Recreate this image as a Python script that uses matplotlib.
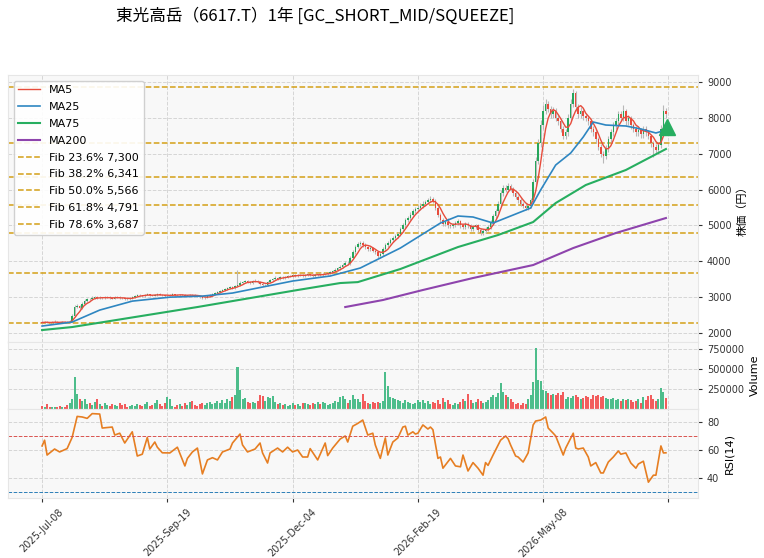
import numpy as np
import pandas as pd
import matplotlib
matplotlib.use('Agg')
import matplotlib.pyplot as plt

plt.rcParams['font.family'] = ['DejaVu Sans', 'Noto Sans CJK JP']

title = '東光高岳（6617.T）1年 [GC_SHORT_MID/SQUEEZE]'
tick_labels = ['2025-Jul-08', '2025-Sep-19', '2025-Dec-04', '2026-Feb-19', '2026-May-08', '']
tick_pos = [0, 50, 100, 150, 200, 250]

# daily candles (yen)
close = [
    2290, 2310, 2300, 2280, 2300, 2320, 2300, 2290, 2310, 2300,
    2290, 2320, 2480, 2720, 2760, 2700, 2820, 2900, 2960, 2940,
    2990, 3000, 2980, 2990, 2970, 2990, 3000, 2980, 2960, 2990,
    3000, 2980, 2970, 2950, 2940, 2980, 3010, 3040, 3060, 3050,
    3030, 3070, 3080, 3050, 3040, 3060, 3090, 3070, 3050, 3030,
    3040, 3060, 3080, 3060, 3050, 3070, 3060, 3040, 3050, 3070,
    3060, 3040, 3020, 3000, 2970, 2990, 3020, 3060, 3100, 3120,
    3150, 3180, 3200, 3230, 3260, 3280, 3250, 3300, 3350, 3400,
    3420, 3450, 3430, 3400, 3440, 3460, 3420, 3380, 3330, 3350,
    3420, 3480, 3500, 3540, 3520, 3560, 3550, 3570, 3580, 3600,
    3620, 3590, 3610, 3630, 3600, 3620, 3640, 3610, 3600, 3630,
    3650, 3620, 3640, 3660, 3680, 3700, 3720, 3760, 3800, 3850,
    3900, 3960, 3940, 4100, 4250, 4400, 4480, 4520, 4460, 4400,
    4350, 4380, 4300, 4250, 4150, 4200, 4350, 4450, 4520, 4600,
    4650, 4700, 4760, 4900, 5000, 5150, 5200, 5300, 5400, 5450,
    5500, 5550, 5600, 5650, 5700, 5750, 5680, 5500, 5300, 5150,
    5050, 5100, 5000, 4980, 5020, 5080, 5120, 5000, 4950, 5050,
    5000, 4900, 4950, 5000, 4880, 4800, 4850, 4900, 4950, 5100,
    5250, 5400, 5600, 5900, 6050, 6000, 6100, 6020, 5900, 5800,
    5700, 5600, 5550, 5500, 5550, 5700, 6200, 6800, 7300, 7800,
    8200, 8400, 8250, 8100, 8200, 8000, 7900, 7700, 7500, 7600,
    8000, 8400, 8700, 8300, 8100, 8200, 8050, 8000, 7900, 7700,
    7600, 7400, 7200, 7000, 6950, 7150, 7400, 7600, 7800, 7900,
    8100, 8000, 8200, 7900, 8000, 7800, 7700, 7600, 7650, 7550,
    7700, 7600, 7500, 7300, 7200, 7100, 7250, 7700, 8200, 8100,
]
open_ = [
    2300, 2290, 2310, 2300, 2280, 2300, 2320, 2300, 2290, 2310,
    2300, 2290, 2320, 2480, 2720, 2760, 2700, 2820, 2900, 2960,
    2940, 2990, 3000, 2980, 2990, 2970, 2990, 3000, 2980, 2960,
    2990, 3000, 2980, 2970, 2950, 2940, 2980, 3010, 3040, 3060,
    3050, 3030, 3070, 3080, 3050, 3040, 3060, 3090, 3070, 3050,
    3030, 3040, 3060, 3080, 3060, 3050, 3070, 3060, 3040, 3050,
    3070, 3060, 3040, 3020, 3000, 2970, 2990, 3020, 3060, 3100,
    3120, 3150, 3180, 3200, 3230, 3260, 3280, 3250, 3300, 3350,
    3400, 3420, 3450, 3430, 3400, 3440, 3460, 3420, 3380, 3330,
    3350, 3420, 3480, 3500, 3540, 3520, 3560, 3550, 3570, 3580,
    3600, 3620, 3590, 3610, 3630, 3600, 3620, 3640, 3610, 3600,
    3630, 3650, 3620, 3640, 3660, 3680, 3700, 3720, 3760, 3800,
    3850, 3900, 3960, 3940, 4100, 4250, 4400, 4480, 4520, 4460,
    4400, 4350, 4380, 4300, 4250, 4150, 4200, 4350, 4450, 4520,
    4600, 4650, 4700, 4760, 4900, 5000, 5150, 5200, 5300, 5400,
    5450, 5500, 5550, 5600, 5650, 5700, 5750, 5680, 5500, 5300,
    5150, 5050, 5100, 5000, 4980, 5020, 5080, 5120, 5000, 4950,
    5050, 5000, 4900, 4950, 5000, 4880, 4800, 4850, 4900, 4950,
    5100, 5250, 5400, 5600, 5900, 6050, 6000, 6100, 6020, 5900,
    5800, 5700, 5600, 5550, 5500, 5550, 5700, 6200, 6800, 7300,
    7800, 8200, 8400, 8250, 8100, 8200, 8000, 7900, 7700, 7500,
    7600, 8000, 8400, 8700, 8300, 8100, 8200, 8050, 8000, 7900,
    7700, 7600, 7400, 7200, 7000, 6950, 7150, 7400, 7600, 7800,
    7900, 8100, 8000, 8200, 7900, 8000, 7800, 7700, 7600, 7650,
    7550, 7700, 7600, 7500, 7300, 7200, 7100, 7250, 7700, 8200,
]
high = [
    2330, 2340, 2330, 2320, 2330, 2350, 2340, 2320, 2340, 2330,
    2330, 2350, 2520, 2780, 2800, 2790, 2860, 2940, 2990, 2990,
    3020, 3030, 3020, 3020, 3010, 3020, 3030, 3020, 3000, 3020,
    3030, 3020, 3000, 2990, 2970, 3010, 3040, 3070, 3090, 3080,
    3070, 3100, 3110, 3100, 3070, 3090, 3120, 3110, 3090, 3070,
    3060, 3090, 3110, 3100, 3080, 3100, 3090, 3080, 3070, 3100,
    3090, 3080, 3060, 3040, 3020, 3020, 3040, 3090, 3130, 3150,
    3180, 3210, 3230, 3260, 3290, 3310, 3300, 3330, 3750, 3440,
    3460, 3490, 3480, 3460, 3470, 3500, 3490, 3450, 3410, 3380,
    3460, 3520, 3540, 3580, 3570, 3600, 3590, 3600, 3610, 3630,
    3650, 3650, 3640, 3660, 3650, 3650, 3670, 3660, 3640, 3660,
    3680, 3670, 3670, 3690, 3710, 3740, 3760, 3800, 3840, 3890,
    3950, 4010, 4000, 4160, 4310, 4460, 4540, 4580, 4560, 4500,
    4440, 4420, 4410, 4340, 4290, 4250, 4400, 4520, 4580, 4650,
    4700, 4750, 4810, 4960, 5060, 5220, 5270, 5370, 5470, 5520,
    5570, 5620, 5670, 5720, 5770, 5820, 5800, 5730, 5550, 5350,
    5200, 5160, 5200, 5050, 5070, 5130, 5180, 5160, 5040, 5100,
    5100, 5040, 5000, 5050, 5040, 4920, 4900, 4950, 5000, 5160,
    5320, 5470, 5680, 5990, 6140, 6120, 6190, 6160, 6080, 5960,
    5860, 5760, 5650, 5600, 5610, 5770, 6300, 6900, 7420, 7950,
    8350, 8520, 8480, 8330, 8300, 8270, 8080, 7960, 7760, 7700,
    8100, 8520, 8800, 8750, 8380, 8290, 8260, 8120, 8060, 7960,
    7780, 7680, 7480, 7280, 7080, 7250, 7500, 7690, 7890, 7990,
    8200, 8180, 8350, 8260, 8080, 8060, 7870, 7760, 7720, 7710,
    7780, 7760, 7660, 7560, 7360, 7260, 7330, 7800, 8350, 8280,
]
low = [
    2270, 2270, 2280, 2260, 2260, 2280, 2280, 2270, 2270, 2280,
    2270, 2270, 2300, 2450, 2690, 2660, 2680, 2790, 2870, 2910,
    2920, 2960, 2950, 2960, 2950, 2950, 2970, 2960, 2940, 2940,
    2970, 2960, 2950, 2930, 2920, 2920, 2960, 2990, 3020, 3030,
    3010, 3010, 3050, 3030, 3020, 3020, 3040, 3050, 3030, 3010,
    3010, 3020, 3040, 3040, 3030, 3030, 3040, 3020, 3020, 3030,
    3040, 3020, 3000, 2980, 2940, 2950, 2970, 3000, 3040, 3080,
    3100, 3130, 3160, 3180, 3210, 3240, 3220, 3230, 3280, 3320,
    3370, 3390, 3400, 3370, 3370, 3410, 3390, 3350, 3300, 3300,
    3320, 3390, 3450, 3470, 3490, 3490, 3520, 3520, 3540, 3550,
    3570, 3560, 3560, 3580, 3570, 3570, 3590, 3580, 3570, 3570,
    3600, 3590, 3590, 3610, 3630, 3650, 3670, 3690, 3730, 3760,
    3810, 3860, 3900, 3900, 4060, 4210, 4360, 4440, 4410, 4350,
    4300, 4300, 4250, 4200, 4100, 4100, 4150, 4300, 4400, 4470,
    4550, 4600, 4650, 4710, 4850, 4940, 5090, 5140, 5240, 5340,
    5390, 5440, 5490, 5540, 5590, 5640, 5620, 5440, 5240, 5090,
    4990, 4990, 4940, 4920, 4920, 4960, 5020, 4940, 4890, 4890,
    4940, 4840, 4840, 4890, 4820, 4740, 4740, 4790, 4840, 4890,
    5040, 5190, 5340, 5530, 5830, 5930, 5930, 5950, 5830, 5730,
    5630, 5530, 5480, 5430, 5430, 5480, 5620, 6100, 6700, 7200,
    7700, 8100, 8150, 8000, 8000, 7900, 7800, 7600, 7400, 7400,
    7500, 7900, 8300, 8200, 8000, 8000, 7950, 7900, 7800, 7600,
    7500, 7300, 7100, 6900, 6740, 6850, 7050, 7300, 7500, 7700,
    7800, 7900, 7900, 7800, 7800, 7700, 7600, 7500, 7500, 7450,
    7450, 7500, 7400, 7200, 6900, 7000, 7000, 7150, 7600, 8000,
]
volume = [
    35000, 30000, 60000, 25000, 20000, 30000, 25000, 40000, 20000, 30000,
    50000, 80000, 130000, 400000, 190000, 130000, 100000, 120000, 60000, 80000,
    50000, 90000, 130000, 60000, 40000, 70000, 50000, 40000, 60000, 50000,
    40000, 80000, 50000, 60000, 30000, 40000, 50000, 40000, 60000, 50000,
    40000, 60000, 90000, 40000, 50000, 70000, 110000, 60000, 40000, 70000,
    150000, 130000, 40000, 30000, 50000, 60000, 40000, 70000, 50000, 90000,
    100000, 50000, 40000, 60000, 80000, 50000, 70000, 90000, 60000, 80000,
    100000, 70000, 110000, 80000, 120000, 100000, 150000, 170000, 525000, 240000,
    125000, 140000, 90000, 80000, 90000, 80000, 100000, 170000, 160000, 100000,
    150000, 140000, 160000, 90000, 60000, 70000, 50000, 60000, 40000, 50000,
    80000, 50000, 60000, 40000, 70000, 80000, 60000, 50000, 70000, 60000,
    90000, 60000, 90000, 70000, 50000, 60000, 80000, 100000, 90000, 150000,
    160000, 120000, 70000, 110000, 170000, 120000, 130000, 90000, 190000, 100000,
    80000, 60000, 90000, 70000, 90000, 80000, 100000, 460000, 290000, 150000,
    140000, 120000, 110000, 100000, 80000, 110000, 90000, 70000, 60000, 80000,
    110000, 90000, 110000, 70000, 100000, 60000, 90000, 80000, 110000, 60000,
    140000, 90000, 110000, 60000, 50000, 70000, 60000, 90000, 120000, 100000,
    190000, 110000, 80000, 90000, 120000, 100000, 70000, 90000, 110000, 150000,
    170000, 150000, 200000, 330000, 210000, 180000, 150000, 120000, 90000, 60000,
    70000, 50000, 80000, 60000, 120000, 180000, 340000, 760000, 360000, 350000,
    240000, 230000, 200000, 170000, 190000, 170000, 200000, 180000, 210000, 130000,
    150000, 140000, 160000, 170000, 150000, 120000, 140000, 160000, 150000, 130000,
    170000, 160000, 180000, 150000, 160000, 140000, 130000, 120000, 140000, 110000,
    130000, 100000, 120000, 110000, 120000, 110000, 90000, 100000, 120000, 80000,
    150000, 110000, 160000, 170000, 120000, 100000, 120000, 260000, 210000, 140000,
]

# moving averages read at a few bars
ma25_x = [0, 12, 23, 36, 51, 64, 76, 88, 100, 115, 127, 143, 159, 166, 172, 180,
          188, 195, 199, 205, 211, 216, 220, 225, 233, 239, 245, 249]
ma25_y = [2195, 2306, 2640, 2890, 3000, 3030, 3115, 3283, 3450, 3590, 3813, 4370,
          5067, 5263, 5235, 5067, 5290, 5486, 5990, 6685, 7020, 7466, 7884, 7800,
          7773, 7690, 7578, 7660]
ma75_x = [0, 12, 22, 62, 102, 119, 126, 143, 166, 182, 196, 205, 217, 233, 249]
ma75_y = [2083, 2167, 2278, 2725, 3200, 3394, 3420, 3785, 4398, 4733, 5095, 5625,
          6127, 6546, 7131]
ma200_x = [121, 136, 152, 172, 196, 212, 229, 249]
ma200_y = [2725, 2920, 3200, 3534, 3896, 4370, 4789, 5207]

fib_labels = ['Fib 23.6% 7,300', 'Fib 38.2% 6,341', 'Fib 50.0% 5,566',
              'Fib 61.8% 4,791', 'Fib 78.6% 3,687']
fib_levels = [7300, 6341, 5566, 4791, 3687]
fib_ends = [8850, 2282]

rsi_x = [0, 1, 2, 5, 7, 10, 12, 14, 16, 18, 20, 23, 24, 28, 29, 31, 33, 36, 38, 40,
         42, 43, 45, 46, 48, 51, 54, 57, 58, 60, 62, 64, 66, 68, 70, 72, 75, 76, 79,
         80, 82, 85, 87, 88, 90, 91, 94, 96, 98, 100, 102, 104, 106, 107, 110, 113,
         114, 116, 119, 121, 122, 124, 126, 128, 130, 132, 133, 135, 137, 138, 140,
         142, 144, 145, 146, 148, 149, 150, 152, 154, 155, 156, 158, 159, 160, 163,
         165, 167, 168, 170, 172, 174, 176, 177, 178, 180, 183, 185, 186, 187, 189,
         190, 192, 194, 196, 197, 199, 201, 202, 204, 205, 208, 209, 212, 213, 214,
         216, 218, 219, 221, 223, 224, 226, 228, 230, 231, 233, 235, 237, 238, 240,
         242, 244, 245, 247, 248, 249]
rsi_val = [62.9, 67, 56.4, 60.7, 58.6, 61, 69, 84, 83.6, 82.6, 86, 85.7, 75.7, 76.4,
           70.7, 72, 65, 73, 55.7, 57, 69, 60.7, 65.7, 62, 58, 57.9, 62, 48.6, 54,
           58.6, 61.4, 42.9, 52.9, 54.5, 52.9, 58.6, 60.7, 65, 71.4, 63.6, 58.6, 60.7,
           65, 57.9, 50.7, 57.9, 61.4, 58.6, 62, 58.6, 60, 55, 55, 61, 52.9, 65, 56,
           61.4, 67.9, 70, 65.7, 77, 79, 81.4, 70.7, 72, 63.6, 54, 68.6, 56.4, 65.7,
           68.6, 76.4, 77, 70.7, 73, 71.4, 72, 77.9, 75, 76.4, 74.5, 54, 55, 47, 54,
           48.6, 48, 56.4, 45, 51, 47, 42, 51, 49, 56.4, 67, 70, 68, 63.6, 55.7, 55,
           51.4, 57.9, 77.9, 80.7, 81.4, 83.6, 75.7, 72, 70, 56.4, 61.4, 72, 61.4,
           60.7, 61.4, 55, 48.6, 51, 43.6, 43.6, 51.4, 55, 59.3, 57, 57.9, 50.7, 47,
           50, 52, 37, 42, 42, 62.9, 57.9, 58]

signal_bar = 249.4
signal_price = 7745

c_up, c_dn = '#26a65b', '#e74c3c'
v_up, v_dn = '#4dbd8b', '#f25c5c'
bg = '#f8f8f8'

fig = plt.figure(figsize=(7.64, 5.58), dpi=100)
L, W = 8 / 764, 690 / 764
ax = fig.add_axes([L, 1 - 342 / 558, W, 267 / 558])
axv = fig.add_axes([L, 1 - 409 / 558, W, 67 / 558], sharex=ax)
axr = fig.add_axes([L, 1 - 498 / 558, W, 89 / 558], sharex=ax)

x = np.arange(len(close))
o = np.array(open_); c = np.array(close); h = np.array(high); lo = np.array(low)
up = c >= o

for a in (ax, axv, axr):
    a.set_facecolor(bg)
    a.grid(True, color='#d5d5d5', linestyle='--', linewidth=0.7)
    a.set_axisbelow(True)
    a.yaxis.tick_right()
    a.yaxis.set_label_position('right')
    a.tick_params(labelsize=7, colors='#333333', length=3)
    for s in a.spines.values():
        s.set_color('#e6e6e6')
        s.set_linewidth(0.8)

# candles
ax.vlines(x, lo, h, color='#b8b8b8', linewidth=0.8, zorder=2)
ax.bar(x[up], (c - o)[up], bottom=o[up], width=0.6, color=c_up, zorder=3)
ax.bar(x[~up], (c - o)[~up], bottom=o[~up], width=0.6, color=c_dn, zorder=3)

ma5 = pd.Series(close).rolling(5, min_periods=1).mean()
ax.plot(x, ma5, color='#e74c3c', lw=1.0, label='MA5', zorder=4)
ax.plot(ma25_x, ma25_y, color='#2e86c1', lw=1.2, label='MA25', zorder=4)
ax.plot(ma75_x, ma75_y, color='#27ae60', lw=1.5, label='MA75', zorder=4)
ax.plot(ma200_x, ma200_y, color='#8e44ad', lw=1.5, label='MA200', zorder=4)
for lvl, lab in zip(fib_levels, fib_labels):
    ax.axhline(lvl, color='#d4a017', ls='--', lw=1.1, label=lab, zorder=1.5)
for lvl in fib_ends:
    ax.axhline(lvl, color='#d4a017', ls='--', lw=1.1, zorder=1.5)
ax.plot([signal_bar], [signal_price], marker='^', ms=11, color='#27ae60', zorder=5)

ax.set_ylim(1750, 9195)
ax.set_yticks([2000, 3000, 4000, 5000, 6000, 7000, 8000, 9000])
ax.set_ylabel('株価（円）', fontsize=8, family=['Noto Sans CJK JP'])
ax.legend(loc='upper left', fontsize=8, framealpha=0.9, edgecolor='#cccccc',
          fancybox=True, borderpad=0.4, labelspacing=0.62, handlelength=2.0)
plt.setp(ax.get_xticklabels(), visible=False)

# volume
axv.bar(x, volume, width=0.8, color=np.where(up, v_up, v_dn))
axv.set_ylim(0, 840000)
axv.set_yticks([250000, 500000, 750000])
axv.set_ylabel('Volume', fontsize=8)
plt.setp(axv.get_xticklabels(), visible=False)

# RSI
axr.plot(rsi_x, rsi_val, color='#e67e22', lw=1.2)
axr.axhline(70, color='#d9534f', ls='--', lw=0.7)
axr.axhline(30, color='#2c7fb8', ls='--', lw=0.7)
axr.set_ylim(25.7, 89.3)
axr.set_yticks([40, 60, 80])
axr.set_ylabel('RSI(14)', fontsize=8)

axr.set_xlim(-13.6, 261.8)
axr.set_xticks(tick_pos)
axr.set_xticklabels(tick_labels, rotation=45, ha='center', fontsize=7)

fig.text(315 / 764, 1 - 16 / 558, title, ha='center', va='center', fontsize=12,
         family=['Noto Sans CJK JP', 'DejaVu Sans'])

fig.savefig('out.png', dpi=100)
